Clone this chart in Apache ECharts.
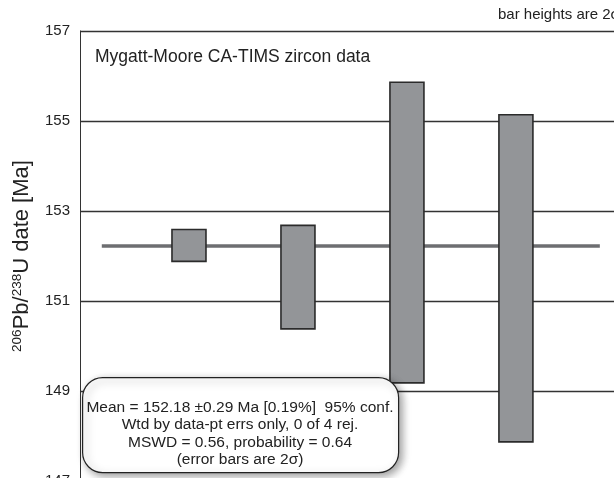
<!DOCTYPE html>
<html>
<head>
<meta charset="utf-8">
<script src="https://cdn.jsdelivr.net/npm/echarts@6/dist/echarts.min.js"></script>
<style>
html,body{margin:0;padding:0;background:#fff;}
#chart{width:614px;height:478px;}
</style>
</head>
<body>
<div id="chart"></div>
<script>
// ---- data ----
var grains = [1, 2, 3, 4];
var lowValues = [151.88, 150.38, 149.18, 147.87];
var highValues = [152.59, 152.68, 155.86, 155.14];
var meanValue = 152.22;
var meanSpan = [0.2, 4.77];
var yTicks = [147, 149, 151, 153, 155, 157];
var titleText = 'Mygatt-Moore CA-TIMS zircon data';
var noteText = 'bar heights are 2\u03c3';
var statsLines = [
  'Mean = 152.18 \u00b10.29 Ma [0.19%]  95% conf.',
  'Wtd by data-pt errs only, 0 of 4 rej.',
  'MSWD = 0.56, probability = 0.64',
  '(error bars are 2\u03c3)'
];

var FONT = "Arial, 'Liberation Sans', sans-serif";
var chart = echarts.init(document.getElementById('chart'));

var barData = grains.map(function (g, i) { return [g, lowValues[i], highValues[i]]; });

var statsGraphics = [{
  type: 'rect',
  left: 82, top: 377,
  shape: { width: 316, height: 95, r: 20 },
  style: { fill: '#fff', stroke: '#222', lineWidth: 1.2,
           shadowBlur: 8, shadowOffsetX: 3, shadowOffsetY: 3, shadowColor: 'rgba(0,0,0,0.4)' },
  z: 100
}];
statsLines.forEach(function (t, i) {
  statsGraphics.push({
    type: 'text', x: 240, y: 408 + i * 17.2,
    style: { text: t, font: '15.5px ' + FONT, fill: '#222', textAlign: 'center', textVerticalAlign: 'middle' },
    z: 101
  });
});

chart.setOption({
  animation: false,
  grid: { left: 80, top: 31, right: 0, height: 450, containLabel: false, outerBoundsMode: 'none' },
  xAxis: { type: 'value', min: 0, max: 4.9, show: false },
  yAxis: {
    type: 'value', min: yTicks[0], max: yTicks[yTicks.length - 1], interval: 2,
    axisLine: { show: true, lineStyle: { color: '#333', width: 1 } },
    axisTick: { show: false },
    axisLabel: { fontSize: 15, fontFamily: FONT, color: '#222', margin: 10, padding: [0, 0, 10, 0],
                 showMinLabel: true, showMaxLabel: true },
    splitLine: { show: true, showMinLine: true, showMaxLine: true, lineStyle: { color: '#333', width: 1.3 } },
    name: '{sup|206}{main|Pb/}{sup|238}{main|U date [Ma]}',
    nameLocation: 'middle', nameRotate: 90, nameGap: 47,
    nameTextStyle: {
      fontFamily: FONT, color: '#222',
      rich: {
        main: { fontSize: 22, fontFamily: FONT, color: '#222', verticalAlign: 'bottom' },
        sup: { fontSize: 13.5, fontFamily: FONT, color: '#222', verticalAlign: 'bottom', padding: [0, 0, 9, 0] }
      }
    }
  },
  series: [
    {
      type: 'line', data: [[meanSpan[0], meanValue], [meanSpan[1], meanValue]],
      symbol: 'none', lineStyle: { color: '#6d6e71', width: 3.5 }, z: 3, silent: true
    },
    {
      type: 'custom', data: barData, z: 5,
      renderItem: function (params, api) {
        var x = api.value(0);
        var p1 = api.coord([x, api.value(2)]);
        var p2 = api.coord([x, api.value(1)]);
        var w = 34;
        return {
          type: 'rect',
          shape: { x: p1[0] - w / 2, y: p1[1], width: w, height: p2[1] - p1[1] },
          style: { fill: '#939598', stroke: '#2b2b2b', lineWidth: 1.6 }
        };
      }
    }
  ],
  graphic: [
    { type: 'text', left: 95, top: 48, style: { text: titleText, font: '17.5px ' + FONT, fill: '#222' }, z: 50 },
    { type: 'text', left: 498, top: 7, style: { text: noteText, font: '15px ' + FONT, fill: '#222' }, z: 50 }
  ].concat(statsGraphics)
});
</script>
</body>
</html>
